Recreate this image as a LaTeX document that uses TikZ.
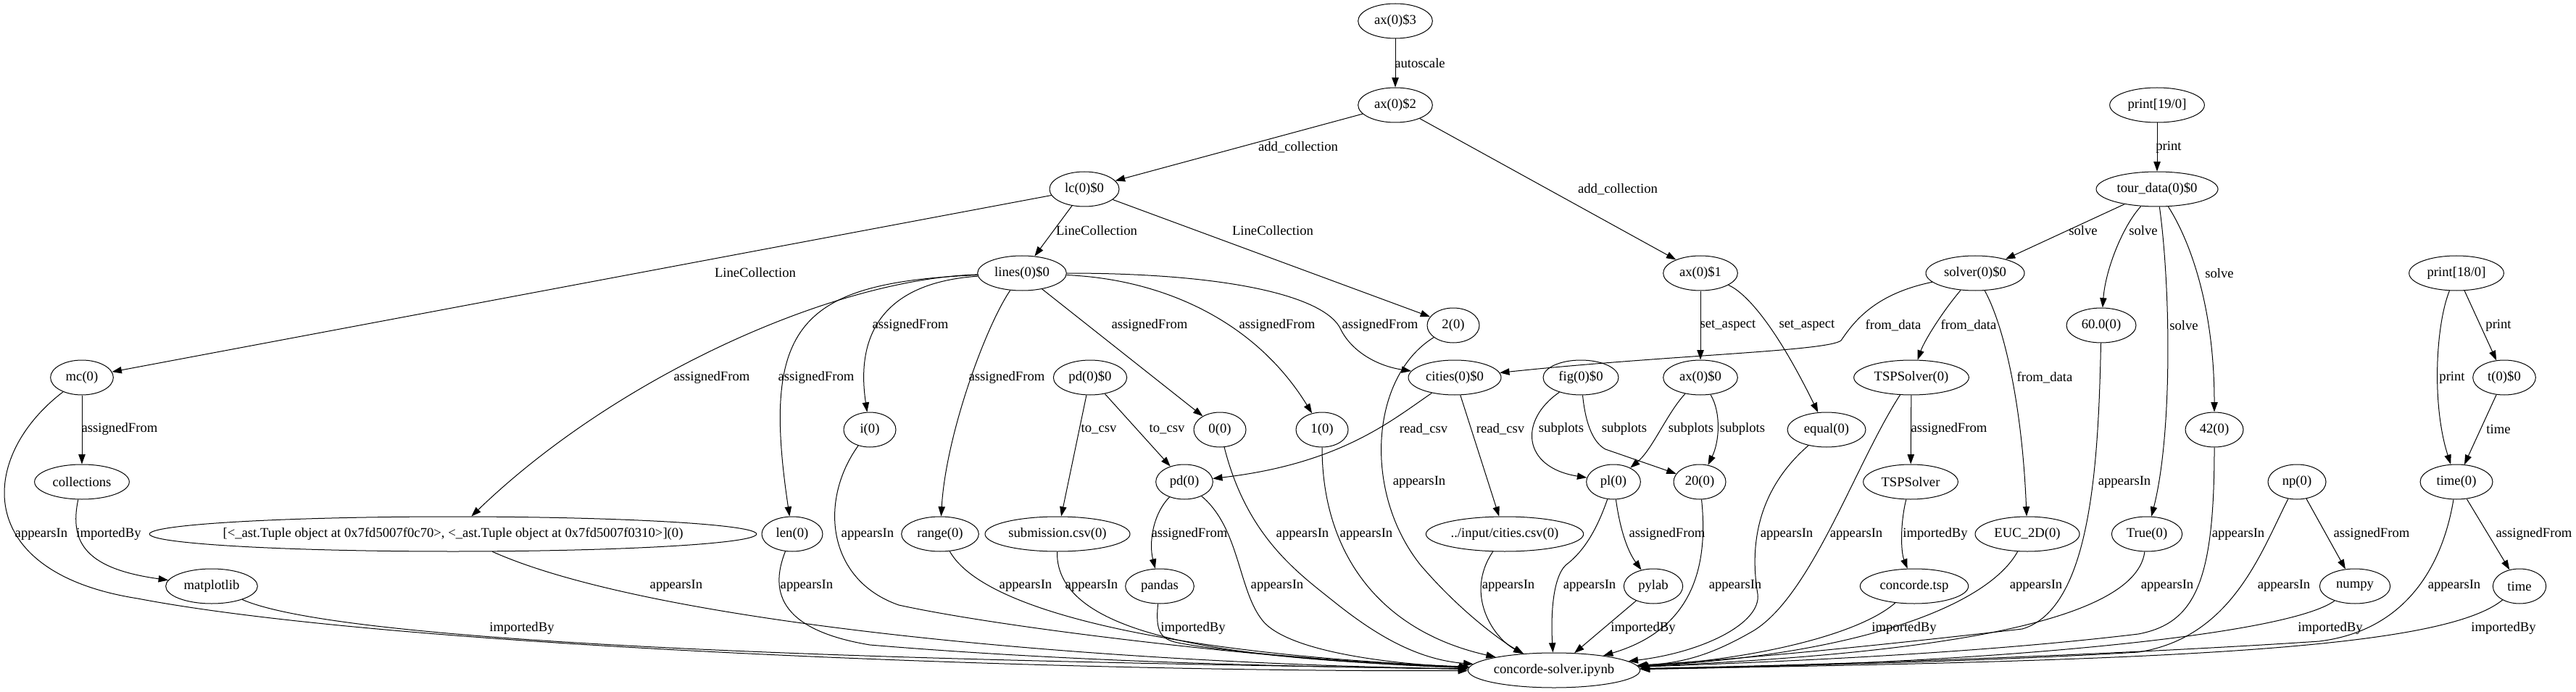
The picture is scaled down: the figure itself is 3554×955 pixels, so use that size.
\documentclass[tikz,border=0pt]{standalone}
\usepackage{fontspec}
\setmainfont{Liberation Serif}
\usetikzlibrary{shapes.geometric, arrows.meta}
\newcommand{\gvfont}{\fontsize{14}{16}\selectfont}
\tikzset{
  varnode/.style={ellipse, draw, line width=0.75pt, minimum width=#1,
    minimum height=36pt, inner xsep=-6pt, inner ysep=0pt, font=\gvfont},
  varnode/.default=54pt,
  rellabel/.style={font=\gvfont, inner sep=0pt},
  arrow/.style={-{Triangle[length=10pt, width=7pt]}, line width=0.75pt}
}
\begin{document}
\begin{tikzpicture}[x=0.75pt, y=-0.75pt]
  \useasboundingbox (0,0) rectangle (3554,955);
  % nodes
  \node[varnode=77pt] (ax3) at (1925,29) {ax(0)\$3};
  \node[varnode=77pt] (ax2) at (1925,145) {ax(0)\$2};
  \node[varnode=98pt] (print19) at (2976,145) {print[19/0]};
  \node[varnode=72pt] (lc) at (1496,261) {lc(0)\$0};
  \node[varnode=126pt] (tourdata) at (2976,261) {tour\_data(0)\$0};
  \node[varnode=92pt] (lines) at (1410,377) {lines(0)\$0};
  \node[varnode=77pt] (ax1) at (2346,377) {ax(0)\$1};
  \node[varnode=102pt] (solver) at (2725,377) {solver(0)\$0};
  \node[varnode=98pt] (print18) at (3389,377) {print[18/0]};
  \node[varnode] (twozero) at (2005,449) {2(0)};
  \node[varnode=72pt] (sixty) at (2899,449) {60.0(0)};
  \node[varnode=65pt] (mc) at (113,521) {mc(0)};
  \node[varnode=76pt] (pdz) at (1504,521) {pd(0)\$0};
  \node[varnode=96pt] (cities) at (2007,521) {cities(0)\$0};
  \node[varnode=78pt] (figz) at (2181,521) {fig(0)\$0};
  \node[varnode=77pt] (axz) at (2346,521) {ax(0)\$0};
  \node[varnode=119pt] (tspz) at (2637,521) {TSPSolver(0)};
  \node[varnode=65pt] (tsec) at (3455,521) {t(0)\$0};
  \node[varnode] (i) at (1200,593) {i(0)};
  \node[varnode] (zero) at (1683,593) {0(0)};
  \node[varnode] (one) at (1824,593) {1(0)};
  \node[varnode=81pt] (equal) at (2520,593) {equal(0)};
  \node[varnode=60pt] (fortytwo) at (3055,593) {42(0)};
  \node[varnode=98pt] (collections) at (113,665) {collections};
  \node[varnode=59pt] (pd) at (1634,665) {pd(0)};
  \node[varnode=56pt] (pl) at (2226,665) {pl(0)};
  \node[varnode] (twenty) at (2345,665) {20(0)};
  \node[varnode=98pt] (tsp) at (2636,665) {TSPSolver};
  \node[varnode=60pt] (np) at (3169,665) {np(0)};
  \node[varnode=75pt] (timez) at (3389,665) {time(0)};
  \node[varnode=628pt, inner xsep=-40pt] (tuple) at (625,737) {[<\_ast.Tuple object at 0x7fd5007f0c70>, <\_ast.Tuple object at 0x7fd5007f0310>](0)};
  \node[varnode=63pt] (len) at (1093,737) {len(0)};
  \node[varnode=80pt] (range) at (1297,737) {range(0)};
  \node[varnode=150pt] (subm) at (1459,737) {submission.csv(0)};
  \node[varnode=163pt] (csv) at (2076,737) {../input/cities.csv(0)};
  \node[varnode=108pt] (euc) at (2797,737) {EUC\_2D(0)};
  \node[varnode=73pt] (truez) at (2962,737) {True(0)};
  \node[varnode=95pt] (matplotlib) at (292,809) {matplotlib};
  \node[varnode=71pt] (pandas) at (1600,809) {pandas};
  \node[varnode=61pt] (pylab) at (2281,809) {pylab};
  \node[varnode=112pt] (concordetsp) at (2641,809) {concorde.tsp};
  \node[varnode=73pt] (numpy) at (3249,809) {numpy};
  \node[varnode=55pt] (time) at (3476,809) {time};
  \node[varnode=178pt] (nb) at (2144,925) {concorde-solver.ipynb};
  % connectors
  \draw[arrow] (ax3) -- (ax2) node[rellabel] at (1959,87) {autoscale};
  \draw[arrow] (ax2) -- (lc) node[rellabel] at (1791,203) {add\_collection};
  \draw[arrow] (ax2) -- (ax1) node[rellabel] at (2232,261) {add\_collection};
  \draw[arrow] (print19) -- (tourdata) node[rellabel] at (2992,203) {print};
  \draw[arrow] (lc) -- (lines) node[rellabel] at (1513,318) {LineCollection};
  \draw[arrow] (lc) -- (twozero) node[rellabel] at (1756,318) {LineCollection};
  \draw[arrow] (lc) -- (mc) node[rellabel] at (1042,376) {LineCollection};
  \draw[arrow] (tourdata) -- (solver) node[rellabel] at (2874,318) {solve};
  \draw[arrow] (tourdata) .. controls (2930,310) and (2905,370) .. (sixty) node[rellabel] at (2957,318) {solve};
  \draw[arrow] (tourdata) .. controls (2995,400) and (2997,600) .. (truez) node[rellabel] at (3013,449) {solve};
  \draw[arrow] (tourdata) .. controls (3020,330) and (3055,420) .. (fortytwo) node[rellabel] at (3062,377) {solve};
  \draw[arrow] (lines) .. controls (1150,385) and (850,520) .. (tuple) node[rellabel] at (982,521) {assignedFrom};
  \draw[arrow] (lines) .. controls (1100,390) and (1050,450) .. (len) node[rellabel] at (1126,521) {assignedFrom};
  \draw[arrow] (lines) .. controls (1220,390) and (1180,460) .. (i) node[rellabel] at (1256,449) {assignedFrom};
  \draw[arrow] (lines) .. controls (1360,450) and (1305,600) .. (range) node[rellabel] at (1389,521) {assignedFrom};
  \draw[arrow] (lines) -- (zero) node[rellabel] at (1586,449) {assignedFrom};
  \draw[arrow] (lines) .. controls (1600,385) and (1730,440) .. (one) node[rellabel] at (1762,449) {assignedFrom};
  \draw[arrow] (lines) .. controls (1700,377) and (1830,410) .. (1850,455) .. controls (1865,485) and (1900,505) .. (cities) node[rellabel] at (1904,449) {assignedFrom};
  \draw[arrow] (mc) -- (collections) node[rellabel] at (165,592) {assignedFrom};
  \draw[arrow] (mc) .. controls (-30,630) and (-40,790) .. (190,826) .. controls (550,895) and (1500,928) .. (nb) node[rellabel] at (57,737) {appearsIn};
  \draw[arrow] (collections) .. controls (95,750) and (120,785) .. (matplotlib) node[rellabel] at (150,737) {importedBy};
  \draw[arrow] (matplotlib) .. controls (500,900) and (1500,915) .. (nb) node[rellabel] at (720,867) {importedBy};
  \draw[arrow] (tuple) .. controls (900,860) and (1500,915) .. (nb) node[rellabel] at (933,808) {appearsIn};
  \draw[arrow] (len) .. controls (1060,820) and (1080,870) .. (1200,890) .. controls (1500,915) and (1800,920) .. (nb) node[rellabel] at (1113,808) {appearsIn};
  \draw[arrow] (i) .. controls (1130,690) and (1140,800) .. (1240,835) .. controls (1400,870) and (1800,915) .. (nb) node[rellabel] at (1197,737) {appearsIn};
  \draw[arrow] (range) .. controls (1360,850) and (1650,905) .. (nb) node[rellabel] at (1415,808) {appearsIn};
  \draw[arrow] (subm) .. controls (1456,880) and (1700,910) .. (nb) node[rellabel] at (1506,808) {appearsIn};
  \draw[arrow] (pdz) -- (subm) node[rellabel] at (1516,592) {to\_csv};
  \draw[arrow] (pdz) -- (pd) node[rellabel] at (1610,592) {to\_csv};
  \draw[arrow] (pd) .. controls (1590,710) and (1585,750) .. (pandas) node[rellabel] at (1641,737) {assignedFrom};
  \draw[arrow] (pandas) .. controls (1594,870) and (1600,882) .. (1625,887) .. controls (1700,902) and (1900,916) .. (nb) node[rellabel] at (1646,867) {importedBy};
  \draw[arrow] (pd) .. controls (1712,730) and (1708,820) .. (1745,860) .. controls (1790,905) and (1950,918) .. (nb) node[rellabel] at (1762,808) {appearsIn};
  \draw[arrow] (zero) .. controls (1720,740) and (1790,790) .. (1840,830) .. controls (1890,870) and (1950,910) .. (nb) node[rellabel] at (1797,737) {appearsIn};
  \draw[arrow] (one) .. controls (1824,760) and (1900,870) .. (nb) node[rellabel] at (1885,737) {appearsIn};
  \draw[arrow] (cities) .. controls (1920,580) and (1850,640) .. (pd) node[rellabel] at (1964,592) {read\_csv};
  \draw[arrow] (cities) -- (csv) node[rellabel] at (2070,592) {read\_csv};
  \draw[arrow] (twozero) .. controls (1890,520) and (1880,680) .. (1960,780) .. controls (2020,850) and (2080,890) .. (nb) node[rellabel] at (1958,665) {appearsIn};
  \draw[arrow] (csv) .. controls (2020,820) and (2060,880) .. (nb) node[rellabel] at (2081,808) {appearsIn};
  \draw[arrow] (figz) .. controls (2095,580) and (2100,645) .. (pl) node[rellabel] at (2154,592) {subplots};
  \draw[arrow] (figz) .. controls (2188,590) and (2200,612) .. (2215,620) -- (twenty) node[rellabel] at (2241,592) {subplots};
  \draw[arrow] (axz) .. controls (2300,570) and (2280,620) .. (pl) node[rellabel] at (2333,592) {subplots};
  \draw[arrow] (axz) .. controls (2375,570) and (2372,610) .. (twenty) node[rellabel] at (2404,592) {subplots};
  \draw[arrow] (pl) .. controls (2200,740) and (2180,765) .. (2160,780) .. controls (2140,800) and (2140,860) .. (nb) node[rellabel] at (2193,808) {appearsIn};
  \draw[arrow] (pl) .. controls (2235,730) and (2245,760) .. (pylab) node[rellabel] at (2300,737) {assignedFrom};
  \draw[arrow] (pylab) -- (nb) node[rellabel] at (2267,867) {importedBy};
  \draw[arrow] (twenty) .. controls (2358,790) and (2330,870) .. (nb) node[rellabel] at (2394,808) {appearsIn};
  \draw[arrow] (ax1) -- (axz) node[rellabel] at (2384,449) {set\_aspect};
  \draw[arrow] (ax1) .. controls (2400,400) and (2440,430) .. (equal) node[rellabel] at (2493,449) {set\_aspect};
  \draw[arrow] (equal) .. controls (2420,680) and (2415,760) .. (2425,820) .. controls (2430,860) and (2350,900) .. (nb) node[rellabel] at (2465,737) {appearsIn};
  \draw[arrow] (tspz) .. controls (2560,640) and (2500,820) .. (2420,870) .. controls (2360,905) and (2320,915) .. (nb) node[rellabel] at (2561,737) {appearsIn};
  \draw[arrow] (solver) .. controls (2590,405) and (2560,440) .. (2540,470) .. controls (2520,485) and (2300,490) .. (cities) node[rellabel] at (2612,449) {from\_data};
  \draw[arrow] (solver) .. controls (2680,430) and (2655,470) .. (tspz) node[rellabel] at (2716,449) {from\_data};
  \draw[arrow] (solver) .. controls (2765,450) and (2790,560) .. (euc) node[rellabel] at (2821,521) {from\_data};
  \draw[arrow] (tspz) -- (tsp) node[rellabel] at (2689,592) {assignedFrom};
  \draw[arrow] (tsp) .. controls (2622,720) and (2622,760) .. (concordetsp) node[rellabel] at (2670,737) {importedBy};
  \draw[arrow] (concordetsp) .. controls (2560,880) and (2400,912) .. (nb) node[rellabel] at (2627,867) {importedBy};
  \draw[arrow] (euc) .. controls (2740,840) and (2550,905) .. (nb) node[rellabel] at (2809,808) {appearsIn};
  \draw[arrow] (sixty) .. controls (2895,640) and (2885,840) .. (2790,868) .. controls (2600,890) and (2400,910) .. (nb) node[rellabel] at (2931,665) {appearsIn};
  \draw[arrow] (truez) .. controls (2945,870) and (2600,905) .. (nb) node[rellabel] at (2990,808) {appearsIn};
  \draw[arrow] (fortytwo) .. controls (3055,800) and (3030,860) .. (2950,875) .. controls (2700,905) and (2400,915) .. (nb) node[rellabel] at (3088,737) {appearsIn};
  \draw[arrow] (np) .. controls (3120,760) and (3080,880) .. (2950,900) .. controls (2700,915) and (2400,920) .. (nb) node[rellabel] at (3151,808) {appearsIn};
  \draw[arrow] (np) -- (numpy) node[rellabel] at (3272,737) {assignedFrom};
  \draw[arrow] (numpy) .. controls (3150,880) and (2700,918) .. (nb) node[rellabel] at (3215,867) {importedBy};
  \draw[arrow] (print18) .. controls (3360,450) and (3355,560) .. (timez) node[rellabel] at (3383,521) {print};
  \draw[arrow] (print18) -- (tsec) node[rellabel] at (3447,449) {print};
  \draw[arrow] (tsec) -- (timez) node[rellabel] at (3447,592) {time};
  \draw[arrow] (timez) -- (time) node[rellabel] at (3496,737) {assignedFrom};
  \draw[arrow] (timez) .. controls (3370,780) and (3320,870) .. (3200,885) .. controls (2900,905) and (2500,918) .. (nb) node[rellabel] at (3386,808) {appearsIn};
  \draw[arrow] (time) .. controls (3370,895) and (3000,912) .. (nb) node[rellabel] at (3454,867) {importedBy};
\end{tikzpicture}
\end{document}
